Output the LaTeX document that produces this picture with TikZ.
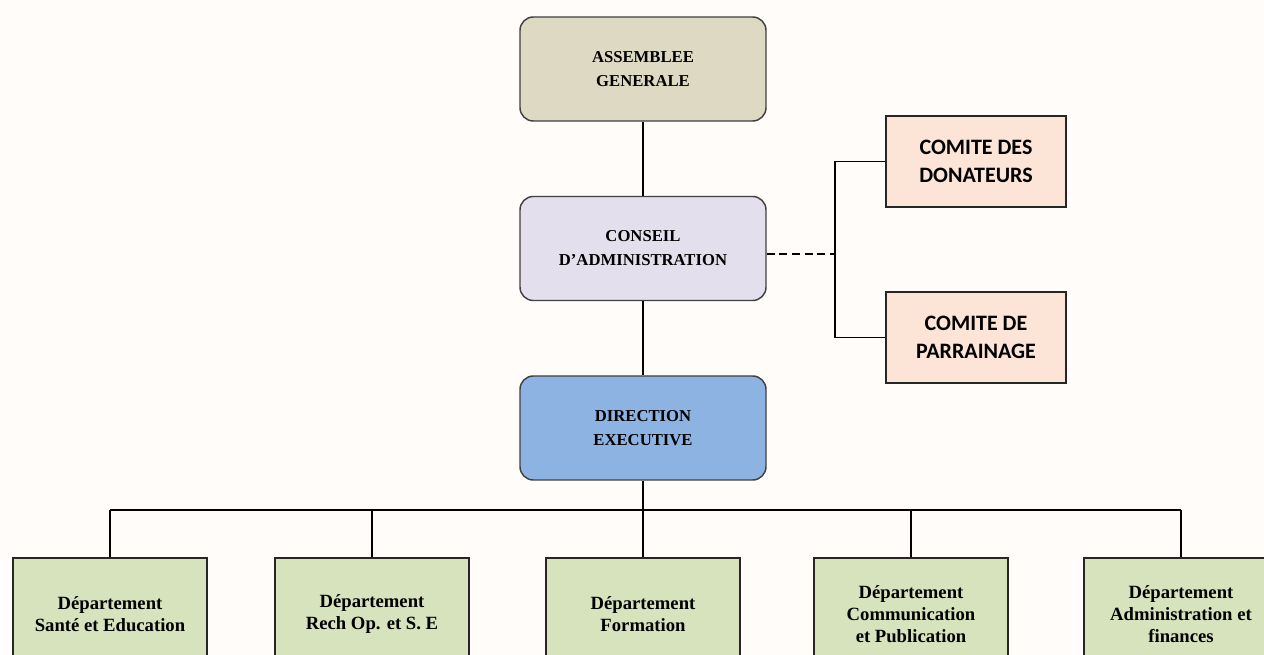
\documentclass[tikz,border=0pt]{standalone}
\usepackage{fontspec}
\setmainfont{Liberation Serif}
\newfontfamily\calibfont{Carlito}
\usetikzlibrary{positioning}

\begin{document}
\begin{tikzpicture}[x=0.75pt,y=-0.75pt,
    organe/.style={draw=black!75, line width=1.1pt, rounded corners=10pt,
        minimum width=184.5pt, minimum height=78pt, align=center, inner sep=0pt,
        font=\bfseries\fontsize{12.5}{18}\selectfont},
    comite/.style={draw=black!85, line width=1.1pt, fill=paleOrange,
        minimum width=135pt, minimum height=68pt, align=center, inner sep=0pt,
        font=\calibfont\bfseries\fontsize{16.5}{21}\selectfont},
    depart/.style={draw=black!85, line width=1.1pt, fill=paleGreen,
        minimum width=145.5pt, minimum height=84pt, align=center, inner sep=0pt,
        font=\bfseries\fontsize{14}{16.5}\selectfont},
    lien/.style={line width=0.9pt}]
    % 定义颜色
    \definecolor{bgCream}{RGB}{255,252,249}   % 背景
    \definecolor{tanGray}{RGB}{221,217,195}   % 大会
    \definecolor{paleLilac}{RGB}{228,223,236} % 理事会
    \definecolor{midBlue}{RGB}{141,179,226}   % 执行
    \definecolor{paleOrange}{RGB}{252,228,214}% 委员会
    \definecolor{paleGreen}{RGB}{214,227,188} % 部门

    % 背景与边界
    \useasboundingbox (0,0) rectangle (1264,655);
    \clip (0,0) rectangle (1264,655);
    \fill[bgCream] (0,0) rectangle (1264,655);

    % 主干
    \node[organe, fill=tanGray] (ag) at (643,69) {ASSEMBLEE\\GENERALE};
    \node[organe, fill=paleLilac] (ca) at (643,248.5) {CONSEIL\\D'ADMINISTRATION};
    \node[organe, fill=midBlue] (de) at (643,428) {DIRECTION\\EXECUTIVE};

    % 委员会
    \node[comite] (cd) at (976,161.5) {COMITE DES\\DONATEURS};
    \node[comite] (cp) at (976,337.5) {COMITE DE\\PARRAINAGE};

    % 部门
    \node[depart] (d1) at (110,614) {Département\\Santé et Education};
    \node[depart] (d2) at (372,614) {Département\\Rech Op. et S. E};
    \node[depart] (d3) at (643,614) {Département\\Formation};
    \node[depart] (d4) at (911,614) {Département\\Communication\\et Publication};
    \node[depart] (d5) at (1181,614) {Département\\Administration et\\finances};

    % 连线
    \draw[lien] (ag) -- (ca);
    \draw[lien] (ca) -- (de);
    \coordinate (fourche) at (835,254);
    \draw[lien, dash pattern=on 6pt off 3.5pt] (ca.east |- fourche) -- (fourche);
    \draw[lien] (cd.west) -| (fourche) |- (cp.west);
    \coordinate (bus) at (643,510);
    \draw[lien] (de) -- (bus);
    \draw[lien] (d1.north |- bus) -- (d5.north |- bus);
    \foreach \d in {d1,d2,d3,d4,d5}
        \draw[lien] (\d.north |- bus) -- (\d.north);
\end{tikzpicture}
\end{document}
